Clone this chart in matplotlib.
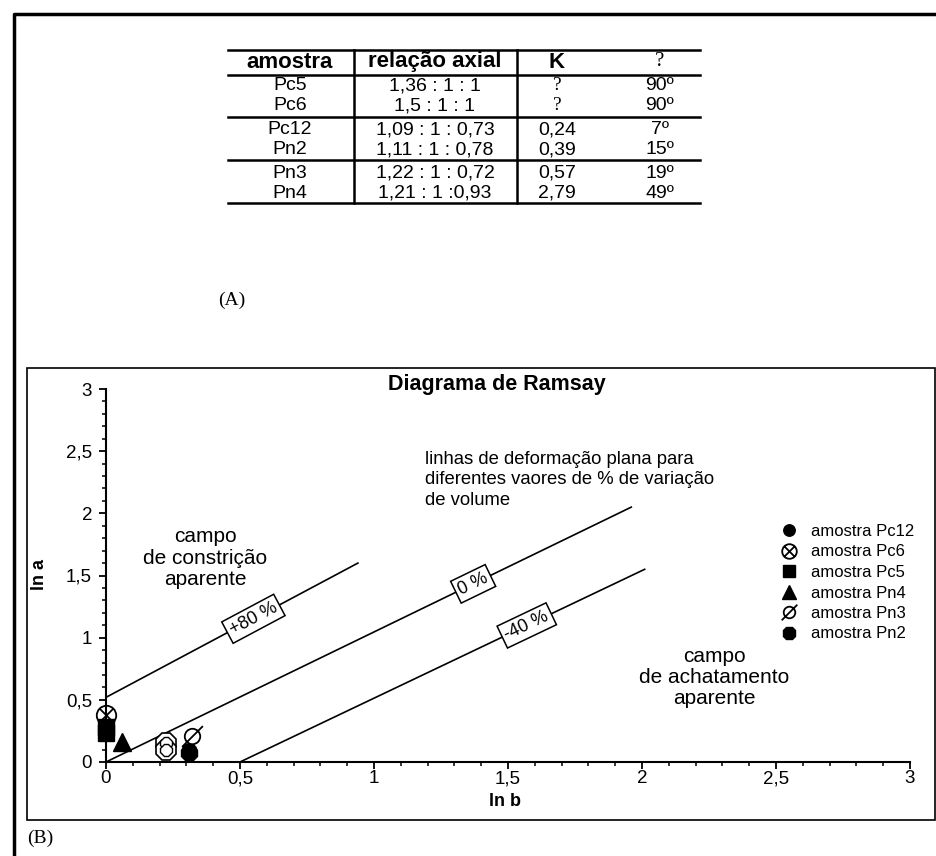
import matplotlib.pyplot as plt
import numpy as np
from matplotlib.path import Path
from matplotlib.lines import Line2D
from matplotlib.patches import Rectangle
from matplotlib.ticker import MultipleLocator, FuncFormatter

plt.rcParams['font.family'] = ['Liberation Sans', 'DejaVu Sans']

W, H = 937, 856

# tabela (A)
col_names = ['amostra', 'relação axial', 'K', '?']
amostras = ['Pc5', 'Pc6', 'Pc12', 'Pn2', 'Pn3', 'Pn4']
relacao = ['1,36 : 1 : 1', '1,5 : 1 : 1', '1,09 : 1 : 0,73',
           '1,11 : 1 : 0,78', '1,22 : 1 : 0,72', '1,21 : 1 :0,93']
k_vals = ['?', '?', '0,24', '0,39', '0,57', '2,79']
angulos = ['90º', '90º', '7º', '15º', '19º', '49º']

pc12_x, pc12_y = [0.31], [0.09]
pc6_x, pc6_y = [0.0], [0.38]
pc5_x, pc5_y = [0.0, 0.0], [0.28, 0.23]
pn4_x, pn4_y = [0.06], [0.16]
pn3_x, pn3_y = [0.32], [0.21]
pn2_x, pn2_y = [0.31], [0.07]
outros_x, outros_y = [0.225, 0.225], [0.15, 0.10]

# linhas de deformacao plana (pontas)
linhas_nome = ['+80 %', '0 %', '-40 %']
linhas_x0 = [0.0, 0.0, 0.5]
linhas_y0 = [0.52, 0.0, 0.0]
linhas_x1 = [0.94, 1.96, 2.01]
linhas_y1 = [1.60, 2.05, 1.55]
linhas_xlab = [0.55, 1.37, 1.57]


def fx(x):
    return x / W


def fy(y):
    return 1 - y / H


fig = plt.figure(figsize=(9.37, 8.56), dpi=100)

# moldura externa e do grafico
fig.add_artist(Line2D([fx(14), fx(14), 1], [0, fy(14), fy(14)],
                      transform=fig.transFigure, color='k', lw=2.5))
fig.add_artist(Rectangle((fx(27), fy(820)), (935 - 27) / W, (820 - 368) / H,
                         transform=fig.transFigure, fill=False, ec='k', lw=1.2))

# tabela
tab_l, tab_r = 228, 700
col_x = [290, 435, 557, 660]
row_y = [86, 106, 130, 150, 173, 193]
for y in [50, 75, 117, 160, 203]:
    fig.add_artist(Line2D([fx(tab_l), fx(tab_r)], [fy(y), fy(y)],
                          transform=fig.transFigure, color='k', lw=1.8))
for x in [354, 517]:
    fig.add_artist(Line2D([fx(x), fx(x)], [fy(50), fy(203)],
                          transform=fig.transFigure, color='k', lw=1.8))
for i, name in enumerate(col_names):
    if name == '?':
        fig.text(fx(col_x[i]), fy(62), name, ha='center', va='center',
                 fontsize=15, family='Liberation Serif')
    else:
        fig.text(fx(col_x[i]), fy(62), name, ha='center', va='center',
                 fontsize=16, fontweight='bold')
for j in range(len(amostras)):
    row = [amostras[j], relacao[j], k_vals[j], angulos[j]]
    for i, val in enumerate(row):
        fam = 'Liberation Serif' if val == '?' else 'Liberation Sans'
        fig.text(fx(col_x[i]), fy(row_y[j]), val, ha='center', va='center',
                 fontsize=14, family=fam)

fig.text(fx(218), fy(300), '(A)', ha='left', va='center', fontsize=14,
         family='Liberation Serif')
fig.text(fx(27), fy(838), '(B)', ha='left', va='center', fontsize=14,
         family='Liberation Serif')

# grafico
ax = fig.add_axes([fx(106), fy(762), 804 / W, 373 / H])
ax.set_xlim(0, 3)
ax.set_ylim(0, 3)
ax.spines['top'].set_visible(False)
ax.spines['right'].set_visible(False)
ax.spines['left'].set_linewidth(1.5)
ax.spines['bottom'].set_linewidth(1.5)
ax.xaxis.set_major_locator(MultipleLocator(0.5))
ax.yaxis.set_major_locator(MultipleLocator(0.5))
ax.xaxis.set_minor_locator(MultipleLocator(0.1))
ax.yaxis.set_minor_locator(MultipleLocator(0.1))
virgula = FuncFormatter(lambda v, p: f'{v:g}'.replace('.', ','))
ax.xaxis.set_major_formatter(virgula)
ax.yaxis.set_major_formatter(virgula)
ax.tick_params(which='major', direction='out', length=5, width=1.3, labelsize=13.5)
ax.tick_params(which='minor', direction='out', length=3, width=1.1)
ax.tick_params(axis='x', which='major', pad=1)
ax.tick_params(axis='y', which='major', pad=5)

for i in range(len(linhas_nome)):
    xs = [linhas_x0[i], linhas_x1[i]]
    ys = [linhas_y0[i], linhas_y1[i]]
    ax.plot(xs, ys, color='k', lw=1.2)
    xl = linhas_xlab[i]
    yl = np.interp(xl, xs, ys)
    ang_dados = np.degrees(np.arctan2(ys[1] - ys[0], xs[1] - xs[0]))
    ang = ax.transData.transform_angles(np.array([ang_dados]),
                                        np.array([[xl, yl]]))[0]
    ax.text(xl, yl, linhas_nome[i], rotation=ang, rotation_mode='anchor',
            ha='center', va='center', fontsize=13,
            bbox=dict(boxstyle='square,pad=0.2', fc='white', ec='k', lw=1.1))

# marcadores
d = 0.7
circ = Path.unit_circle()
cruz = Path([(-d, -d), (d, d), (-d, d), (d, -d)],
            [Path.MOVETO, Path.LINETO, Path.MOVETO, Path.LINETO])
otimes = Path.make_compound_path(circ, cruz)
barra = Path([(-1.35, -1.35), (1.35, 1.35)], [Path.MOVETO, Path.LINETO])
oslash = Path.make_compound_path(circ, barra)

ax.plot(outros_x, outros_y, ls='none', marker='8', ms=15, mfc='white',
        mec='k', mew=1.2, clip_on=False, label='_nolegend_')
ax.plot(outros_x, outros_y, ls='none', marker='8', ms=9, mfc='white',
        mec='k', mew=1.0, clip_on=False, label='_nolegend_')
ax.plot(pc12_x, pc12_y, ls='none', marker='o', ms=11, color='k',
        clip_on=False, label='amostra Pc12')
ax.plot(pc6_x, pc6_y, ls='none', marker=otimes, ms=14, mfc='white',
        mec='k', mew=1.3, clip_on=False, label='amostra Pc6')
ax.plot(pc5_x, pc5_y, ls='none', marker='s', ms=12, color='k',
        clip_on=False, label='amostra Pc5')
ax.plot(pn4_x, pn4_y, ls='none', marker='^', ms=13, color='k',
        clip_on=False, label='amostra Pn4')
ax.plot(pn3_x, pn3_y, ls='none', marker=oslash, ms=15, mfc='white',
        mec='k', mew=1.3, clip_on=False, label='amostra Pn3')
ax.plot(pn2_x, pn2_y, ls='none', marker='8', ms=13, color='k',
        clip_on=False, label='amostra Pn2')

ax.legend(loc='upper left', bbox_to_anchor=(fx(781), fy(524)),
          bbox_transform=fig.transFigure, frameon=False, fontsize=12,
          markerscale=0.75, handlelength=1.0, handletextpad=0.8,
          labelspacing=0.33, borderpad=0, borderaxespad=0)

ax.text(0.37, 1.64, 'campo\nde constrição\naparente', ha='center',
        va='center', fontsize=15, linespacing=1.15)
ax.text(2.27, 0.68, 'campo\nde achatamento\naparente', ha='center',
        va='center', fontsize=15, linespacing=1.15)
ax.text(1.19, 2.50, 'linhas de deformação plana para\n'
        'diferentes vaores de % de variação\nde volume',
        ha='left', va='top', fontsize=13.3, linespacing=1.25)

fig.text(fx(497), fy(384), 'Diagrama de Ramsay', ha='center', va='center',
         fontsize=15.5, fontweight='bold')
fig.text(fx(40), fy(575), 'ln a', rotation=90, ha='center', va='center',
         fontsize=13, fontweight='bold')
fig.text(fx(505), fy(801), 'ln b', ha='center', va='center',
         fontsize=13, fontweight='bold')

fig.savefig('out.png', dpi=100)
